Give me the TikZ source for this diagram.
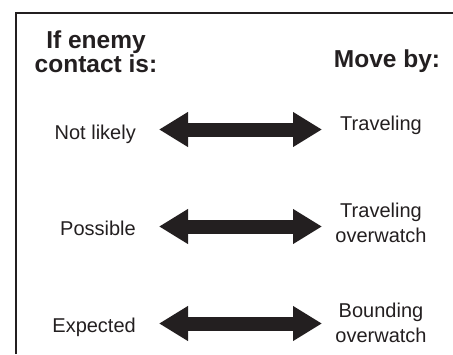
\documentclass[tikz,border=0pt]{standalone}
\usepackage{fontspec}
\setmainfont{Liberation Sans}
\usetikzlibrary{positioning,arrows.meta}
\definecolor{ink}{RGB}{35,31,32}

\begin{document}
\begin{tikzpicture}[x=1pt, y=-1pt,
  head/.style={font=\fontsize{24.5}{24}\selectfont\bfseries, align=center, inner sep=0pt, text=ink},
  lbl/.style={font=\fontsize{20}{24.5}\selectfont, align=center, inner sep=0pt, text=ink},
  twoway/.style={draw=ink, line width=14pt, {Triangle[length=29pt, width=33pt]}-{Triangle[length=29pt, width=33pt]}}]
\useasboundingbox (0,0) rectangle (453,354);

% Frame
\draw [ink, line width=1.7pt] (15.8,354) -- (15.8,12.8) -- (453,12.8);

% Headings
\node [head, anchor=base] (contact) at (96,72) {If enemy\\contact is:};
\node [head, anchor=base] (moveby) at (387,67) {Move by:};

% Arrow ends
\coordinate (l1) at (159,129.5);
\coordinate (r1) at (322,129.5);
\coordinate (l2) at (159,226.5);
\coordinate (r2) at (322,226.5);
\coordinate (l3) at (159,323.5);
\coordinate (r3) at (322,323.5);

% Not likely
\node [lbl, anchor=base east] (notlikely) at (136,139) {Not likely};
\node [lbl, anchor=base] (traveling) at (381,130) {Traveling};
\draw [twoway] (l1) -- (r1);

% Possible
\node [lbl, anchor=base east] (possible) at (136,235) {Possible};
\node [lbl, anchor=base] (travover) at (381,242) {Traveling\\overwatch};
\draw [twoway] (l2) -- (r2);

% Expected
\node [lbl, anchor=base east] (expected) at (136,332) {Expected};
\node [lbl, anchor=base] (boundover) at (381,342) {Bounding\\overwatch};
\draw [twoway] (l3) -- (r3);
\end{tikzpicture}
\end{document}
